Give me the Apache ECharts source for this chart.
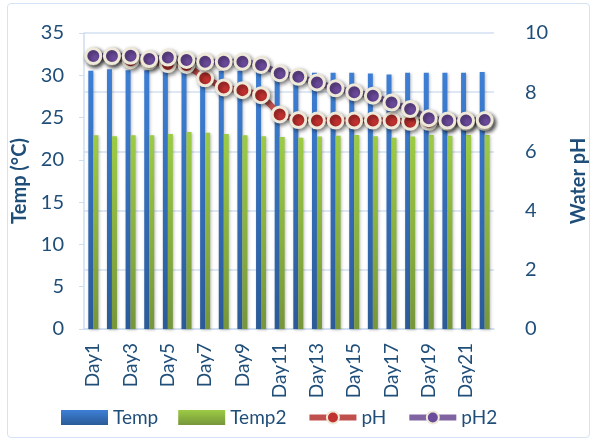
<!DOCTYPE html>
<html>
<head>
<meta charset="utf-8">
<script src="https://cdn.jsdelivr.net/npm/echarts@6/dist/echarts.min.js"></script>
<style>
html,body{margin:0;padding:0;background:#fff;}
#wrap{position:absolute;left:7px;top:3px;width:583px;height:435px;border:1.5px solid #D5E3F4;border-radius:4px;box-sizing:border-box;}
#chart{position:absolute;left:0;top:0;width:597px;height:441px;}
</style>
</head>
<body>
<div id="wrap"></div>
<div id="chart"></div>
<script>
const categories = ["Day1","Day2","Day3","Day4","Day5","Day6","Day7","Day8","Day9","Day10","Day11","Day12","Day13","Day14","Day15","Day16","Day17","Day18","Day19","Day20","Day21","Day22"];
const temp  = [30.55,30.7,30.6,30.6,30.6,30.6,30.5,30.5,30.5,30.5,30.4,30.4,30.3,30.3,30.3,30.2,30.1,30.3,30.3,30.3,30.3,30.4];
const temp2 = [22.9,22.8,22.9,22.9,23.05,23.3,23.2,23.05,22.9,22.8,22.7,22.6,22.75,22.85,22.95,22.8,22.6,22.75,22.95,22.85,22.95,22.95];
const ph    = [9.2,9.2,9.08,9.05,8.95,8.92,8.47,8.16,8.07,7.9,7.25,7.06,7.04,7.04,7.04,7.04,7.04,7.0,7.0,7.0,7.0,7.0];
const ph2   = [9.22,9.22,9.23,9.12,9.17,9.09,9.03,9.03,9.03,8.92,8.64,8.52,8.33,8.13,8.0,7.88,7.65,7.43,7.12,7.04,7.04,7.06];
const leftTicks = {min:0,max:35,interval:5};
const rightTicks = {min:0,max:10,interval:2};

const txt = '#1F4E79';
const font = 'Lato';
const chart = echarts.init(document.getElementById('chart'), null, {renderer:'canvas'});
function lineSeries(name, data, lineColor, dotColor){
  return {
    name, type:'line', yAxisIndex:1, data,
    symbol:'circle', symbolSize:15, showSymbol:true, showAllSymbol:true,
    lineStyle:{color:lineColor,width:6,shadowColor:'rgba(0,0,0,0.25)',shadowBlur:3,shadowOffsetX:1,shadowOffsetY:2},
    itemStyle:{color:dotColor,borderColor:'#EEE9D8',borderWidth:3,shadowColor:'rgba(0,0,0,0.45)',shadowBlur:4,shadowOffsetX:2,shadowOffsetY:2},
    emphasis:{disabled:true}, animation:false
  };
}
chart.setOption({
  animation:false,
  backgroundColor:'transparent',
  textStyle:{fontFamily:font},
  grid:{left:84,right:84,top:33,bottom:112,containLabel:false},
  legend:{
    left:56, top:403, itemWidth:47, itemHeight:15, itemGap:20,
    textStyle:{color:txt,fontSize:19,fontFamily:font},
    data:[
      {name:'Temp',icon:'rect'},
      {name:'Temp2',icon:'rect'},
      {name:'pH',lineStyle:{width:6}},
      {name:'pH2',lineStyle:{width:6}}
    ]
  },
  xAxis:{
    type:'category', data:categories,
    axisLine:{lineStyle:{color:'#CFDDEF',width:1.5}},
    axisTick:{show:false},
    axisLabel:{rotate:90,interval:1,color:txt,fontSize:19,fontFamily:font,margin:14}
  },
  yAxis:[
    {
      type:'value', min:leftTicks.min, max:leftTicks.max, interval:leftTicks.interval,
      name:'Temp (°C)', nameLocation:'middle', nameGap:50, nameRotate:90,
      nameTextStyle:{color:txt,fontSize:20,fontWeight:'bold',fontFamily:font},
      axisLine:{show:true,lineStyle:{color:'#CFDDEF',width:1.5}},
      axisTick:{show:true,lineStyle:{color:'#CFDDEF'}},
      axisLabel:{color:txt,fontSize:20,fontFamily:font,margin:20},
      splitLine:{show:false}
    },
    {
      type:'value', min:rightTicks.min, max:rightTicks.max, interval:rightTicks.interval,
      name:'Water pH', nameLocation:'middle', nameGap:75, nameRotate:90,
      nameTextStyle:{color:txt,fontSize:20,fontWeight:'bold',fontFamily:font},
      axisLine:{show:false},
      axisTick:{show:false},
      axisLabel:{color:txt,fontSize:20,fontFamily:font,margin:31},
      splitLine:{show:true,lineStyle:{color:'#D3E0F1',width:1.5}}
    }
  ],
  series:[
    {
      name:'Temp', type:'bar', data:temp, barWidth:5, barGap:'0%',
      itemStyle:{color:new echarts.graphic.LinearGradient(0,0,0,1,[{offset:0,color:'#3D7FD6'},{offset:1,color:'#2B5B98'}]),
        shadowColor:'rgba(0,0,0,0.25)',shadowBlur:3,shadowOffsetX:1,shadowOffsetY:1}
    },
    {
      name:'Temp2', type:'bar', data:temp2, barWidth:5, barGap:'0%',
      itemStyle:{color:new echarts.graphic.LinearGradient(0,0,0,1,[{offset:0,color:'#9DCB45'},{offset:1,color:'#76963A'}]),
        shadowColor:'rgba(0,0,0,0.25)',shadowBlur:3,shadowOffsetX:1,shadowOffsetY:1}
    },
    lineSeries('pH', ph, '#C0504D', '#C0312F'),
    lineSeries('pH2', ph2, '#8064A2', '#6A4A9A')
  ]
});
</script>
</body>
</html>
